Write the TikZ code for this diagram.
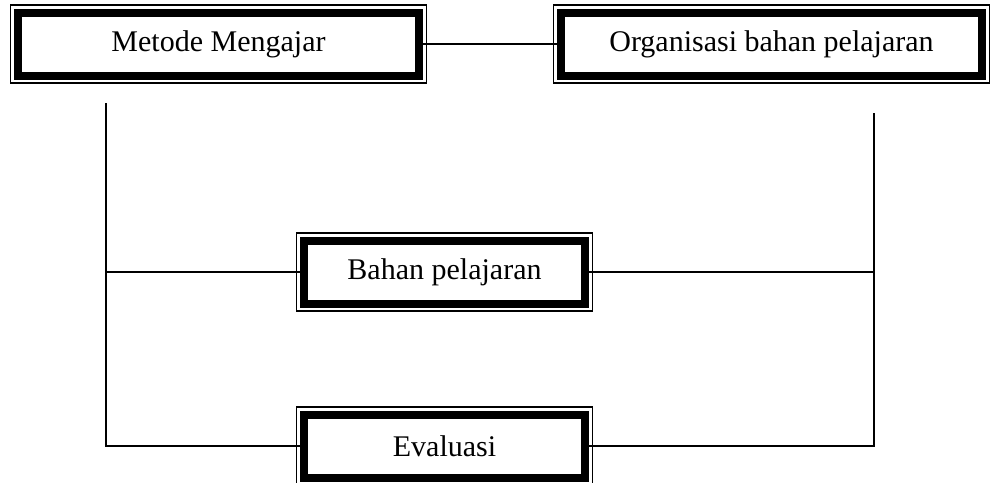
\documentclass[tikz,border=0pt]{standalone}
\usepackage{fontspec}
\setmainfont{Liberation Serif}
\usetikzlibrary{calc}

\begin{document}
\begin{tikzpicture}[x=0.4pt,y=-0.4pt,
  kotak/.style={draw,line width=3.2pt,minimum height=25.2pt,font=\fontsize{12}{14}\selectfont,
    append after command={\pgfextra{\draw[line width=0.5pt]
      ($(\tikzlastnode.north west)+(-1.4pt,1.4pt)$) rectangle ($(\tikzlastnode.south east)+(1.4pt,-1.4pt)$);}}},
  garis/.style={line width=0.6pt}]
\useasboundingbox (0,0) rectangle (992,482);

% kotak-kotak
\node[kotak,minimum width=160.4pt] (mengajar) at (218.5,44) {Metode Mengajar};
\node[kotak,minimum width=168.4pt] (organisasi) at (771.5,44) {Organisasi bahan pelajaran};
\node[kotak,minimum width=112.4pt] (bahan) at (444.5,272) {Bahan pelajaran};
\node[kotak,minimum width=112.4pt] (evaluasi) at (444.5,446) {Evaluasi};

\coordinate (kiri) at (106,103);
\coordinate (kanan) at (874,113);

% garis penghubung
\draw[garis] (mengajar) -- (organisasi);
\draw[garis] (kiri) |- (evaluasi);
\draw[garis] (kanan) |- (evaluasi);
\draw[garis] (kiri |- bahan) -- (bahan);
\draw[garis] (bahan) -- (kanan |- bahan);
\end{tikzpicture}
\end{document}
